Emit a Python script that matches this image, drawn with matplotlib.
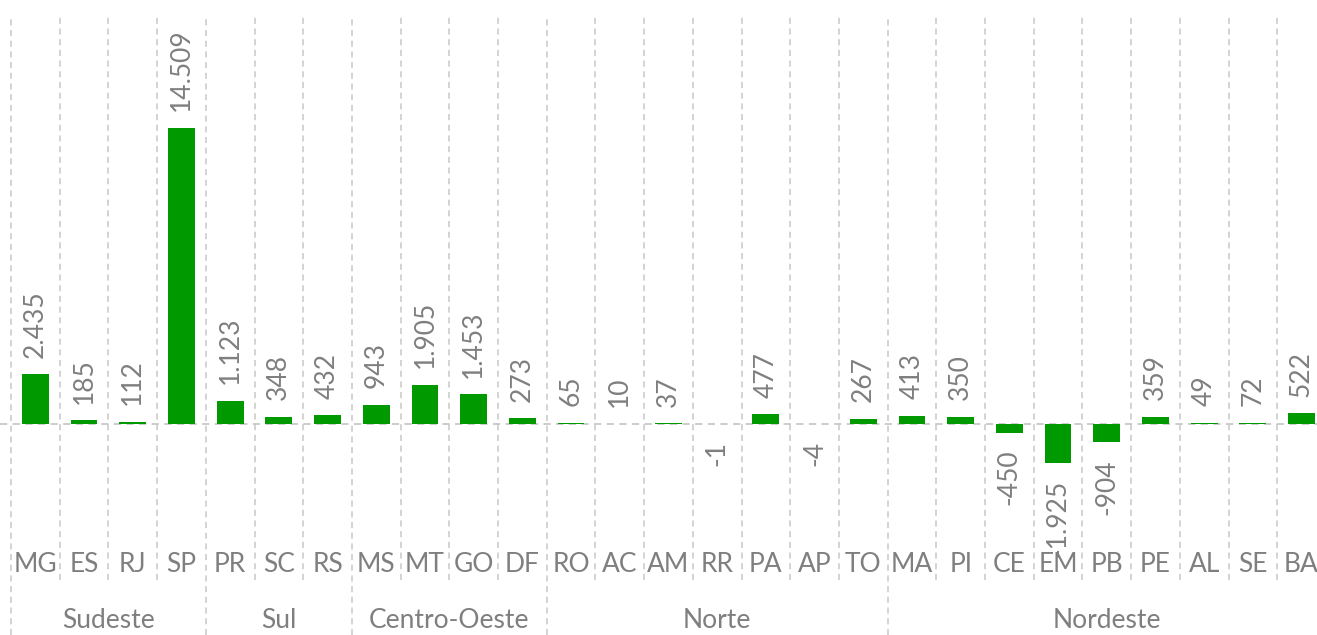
import matplotlib.pyplot as plt

# ==================================
# DATA
# ==================================

states = ["MG", "ES", "RJ", "SP", "PR", "SC", "RS", "MS", "MT", "GO", "DF",
          "RO", "AC", "AM", "RR", "PA", "AP", "TO", "MA", "PI", "CE", "EM",
          "PB", "PE", "AL", "SE", "BA"]

values = [2435, 185, 112, 14509, 1123, 348, 432, 943, 1905, 1453, 273,
          65, 10, 37, -1, 477, -4, 267, 413, 350, -450, -1925,
          -904, 359, 49, 72, 522]

regions = ["Sudeste", "Sul", "Centro-Oeste", "Norte", "Nordeste"]
region_sizes = [4, 3, 4, 7, 9]

# ==================================
# STYLE
# ==================================

plt.rcParams["font.family"] = ["Lato", "DejaVu Sans"]
bar_color = "#009900"
text_color = "#7f7f7f"
grid_color = "#c8c8c8"
fs = 19

fig = plt.figure(figsize=(13.17, 6.35), dpi=100)
ax = fig.add_axes([0, 0, 1, 1])

# ==================================
# BARS
# ==================================

x = list(range(len(states)))
ax.bar(x, values, width=0.55, color=bar_color, zorder=3)

for xi, v in zip(x, values):
    label = f"{v:,}".replace(",", ".")
    if v >= 0:
        ax.annotate(label, (xi, v), xytext=(0, 12), textcoords="offset points",
                    rotation=90, ha="center", va="bottom",
                    fontsize=fs, color=text_color)
    else:
        ax.annotate(label, (xi, v), xytext=(0, -12), textcoords="offset points",
                    rotation=90, ha="center", va="top",
                    fontsize=fs, color=text_color)

# ==================================
# GRID / AXIS LINES
# ==================================

trans = ax.get_xaxis_transform()

group_edges = [-0.5]
for n in region_sizes:
    group_edges.append(group_edges[-1] + n)

for b in range(len(states)):
    edge = b - 0.5
    bottom = 0.0 if edge in group_edges else 1 - 580 / 635
    ax.plot([edge, edge], [bottom, 1 - 16 / 635], transform=trans,
            color=grid_color, lw=1.1, ls=(0, (4, 3)), zorder=1,
            clip_on=False)

ax.axhline(0, xmin=0, xmax=1, color=grid_color, lw=1.3, ls=(0, (4, 3)),
           zorder=2)

# ==================================
# CATEGORY LABELS
# ==================================

for xi, s in zip(x, states):
    ax.text(xi, 1 - 565 / 635, s, transform=trans, ha="center", va="center",
            fontsize=fs, color=text_color)

start = 0
for name, n in zip(regions, region_sizes):
    center = start + (n - 1) / 2
    ax.text(center, 1 - 620 / 635, name, transform=trans, ha="center",
            va="center", fontsize=fs, color=text_color)
    start += n

# ==================================
# LIMITS
# ==================================

scale = 296 / 14509
ax.set_xlim(-0.5 - 11 / 48.7, -0.5 + 1306 / 48.7)
ax.set_ylim(-211 / scale, 424 / scale)
ax.axis("off")

fig.savefig("out.png", dpi=100)
plt.close(fig)
